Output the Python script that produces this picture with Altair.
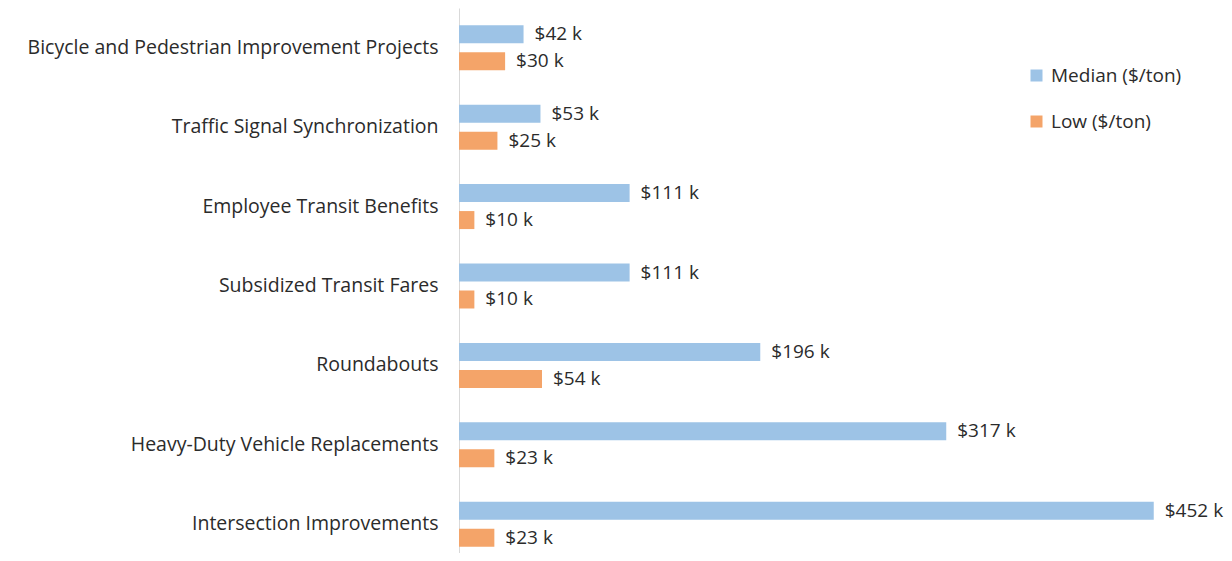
import altair as alt
import pandas as pd

categories = [
    "Bicycle and Pedestrian Improvement Projects",
    "Traffic Signal Synchronization",
    "Employee Transit Benefits",
    "Subsidized Transit Fares",
    "Roundabouts",
    "Heavy-Duty Vehicle Replacements",
    "Intersection Improvements",
]
median_vals = [42, 53, 111, 111, 196, 317, 452]
low_vals = [30, 25, 10, 10, 54, 23, 23]
series = ["Median ($/ton)", "Low ($/ton)"]
colors = ["#9DC3E6", "#F4A469"]

rows = []
for c, m, l in zip(categories, median_vals, low_vals):
    rows.append({"category": c, "series": series[0], "value": m})
    rows.append({"category": c, "series": series[1], "value": l})
df = pd.DataFrame(rows)

FONT = "Open Sans"
FS = 19
TEXT_COLOR = "#2B2B2B"

base = alt.Chart(df).transform_calculate(
    label="'$' + datum.value + ' k'"
).encode(
    y=alt.Y(
        "category:N",
        sort=categories,
        title=None,
        scale=alt.Scale(range=[0, 556], paddingInner=0, paddingOuter=0),
        axis=alt.Axis(
            ticks=False,
            domainColor="#D9D9D9",
            domainWidth=1,
            labelFont=FONT,
            labelFontSize=19.5,
            labelColor=TEXT_COLOR,
            labelPadding=21,
            labelLimit=600,
        ),
    ),
    yOffset=alt.YOffset(
        "series:N",
        sort=series,
        scale=alt.Scale(paddingInner=0.333, paddingOuter=0.638),
    ),
    x=alt.X("value:Q", scale=alt.Scale(domain=[0, 492.5], nice=False), axis=None),
)

bars = base.mark_bar().encode(
    color=alt.Color(
        "series:N",
        sort=series,
        scale=alt.Scale(domain=series, range=colors),
        legend=alt.Legend(
            orient="none",
            legendX=568,
            legendY=58,
            title=None,
            symbolType="square",
            symbolSize=144,
            symbolStrokeWidth=0,
            labelFont=FONT,
            labelFontSize=FS,
            labelColor=TEXT_COLOR,
            labelOffset=5,
            rowPadding=26,
            padding=0,
        ),
    )
)

text = base.mark_text(
    align="left", baseline="middle", dx=11, font=FONT, fontSize=FS, color=TEXT_COLOR
).encode(text="label:N")

chart = (
    alt.layer(bars, text)
    .properties(
        width=757,
        height=540,
        padding={"left": 451, "top": 0, "right": 8, "bottom": 5},
        autosize="none",
    )
    .configure_view(stroke=None)
)

chart.save("out.html", embed_options={"renderer": "svg", "actions": False})
